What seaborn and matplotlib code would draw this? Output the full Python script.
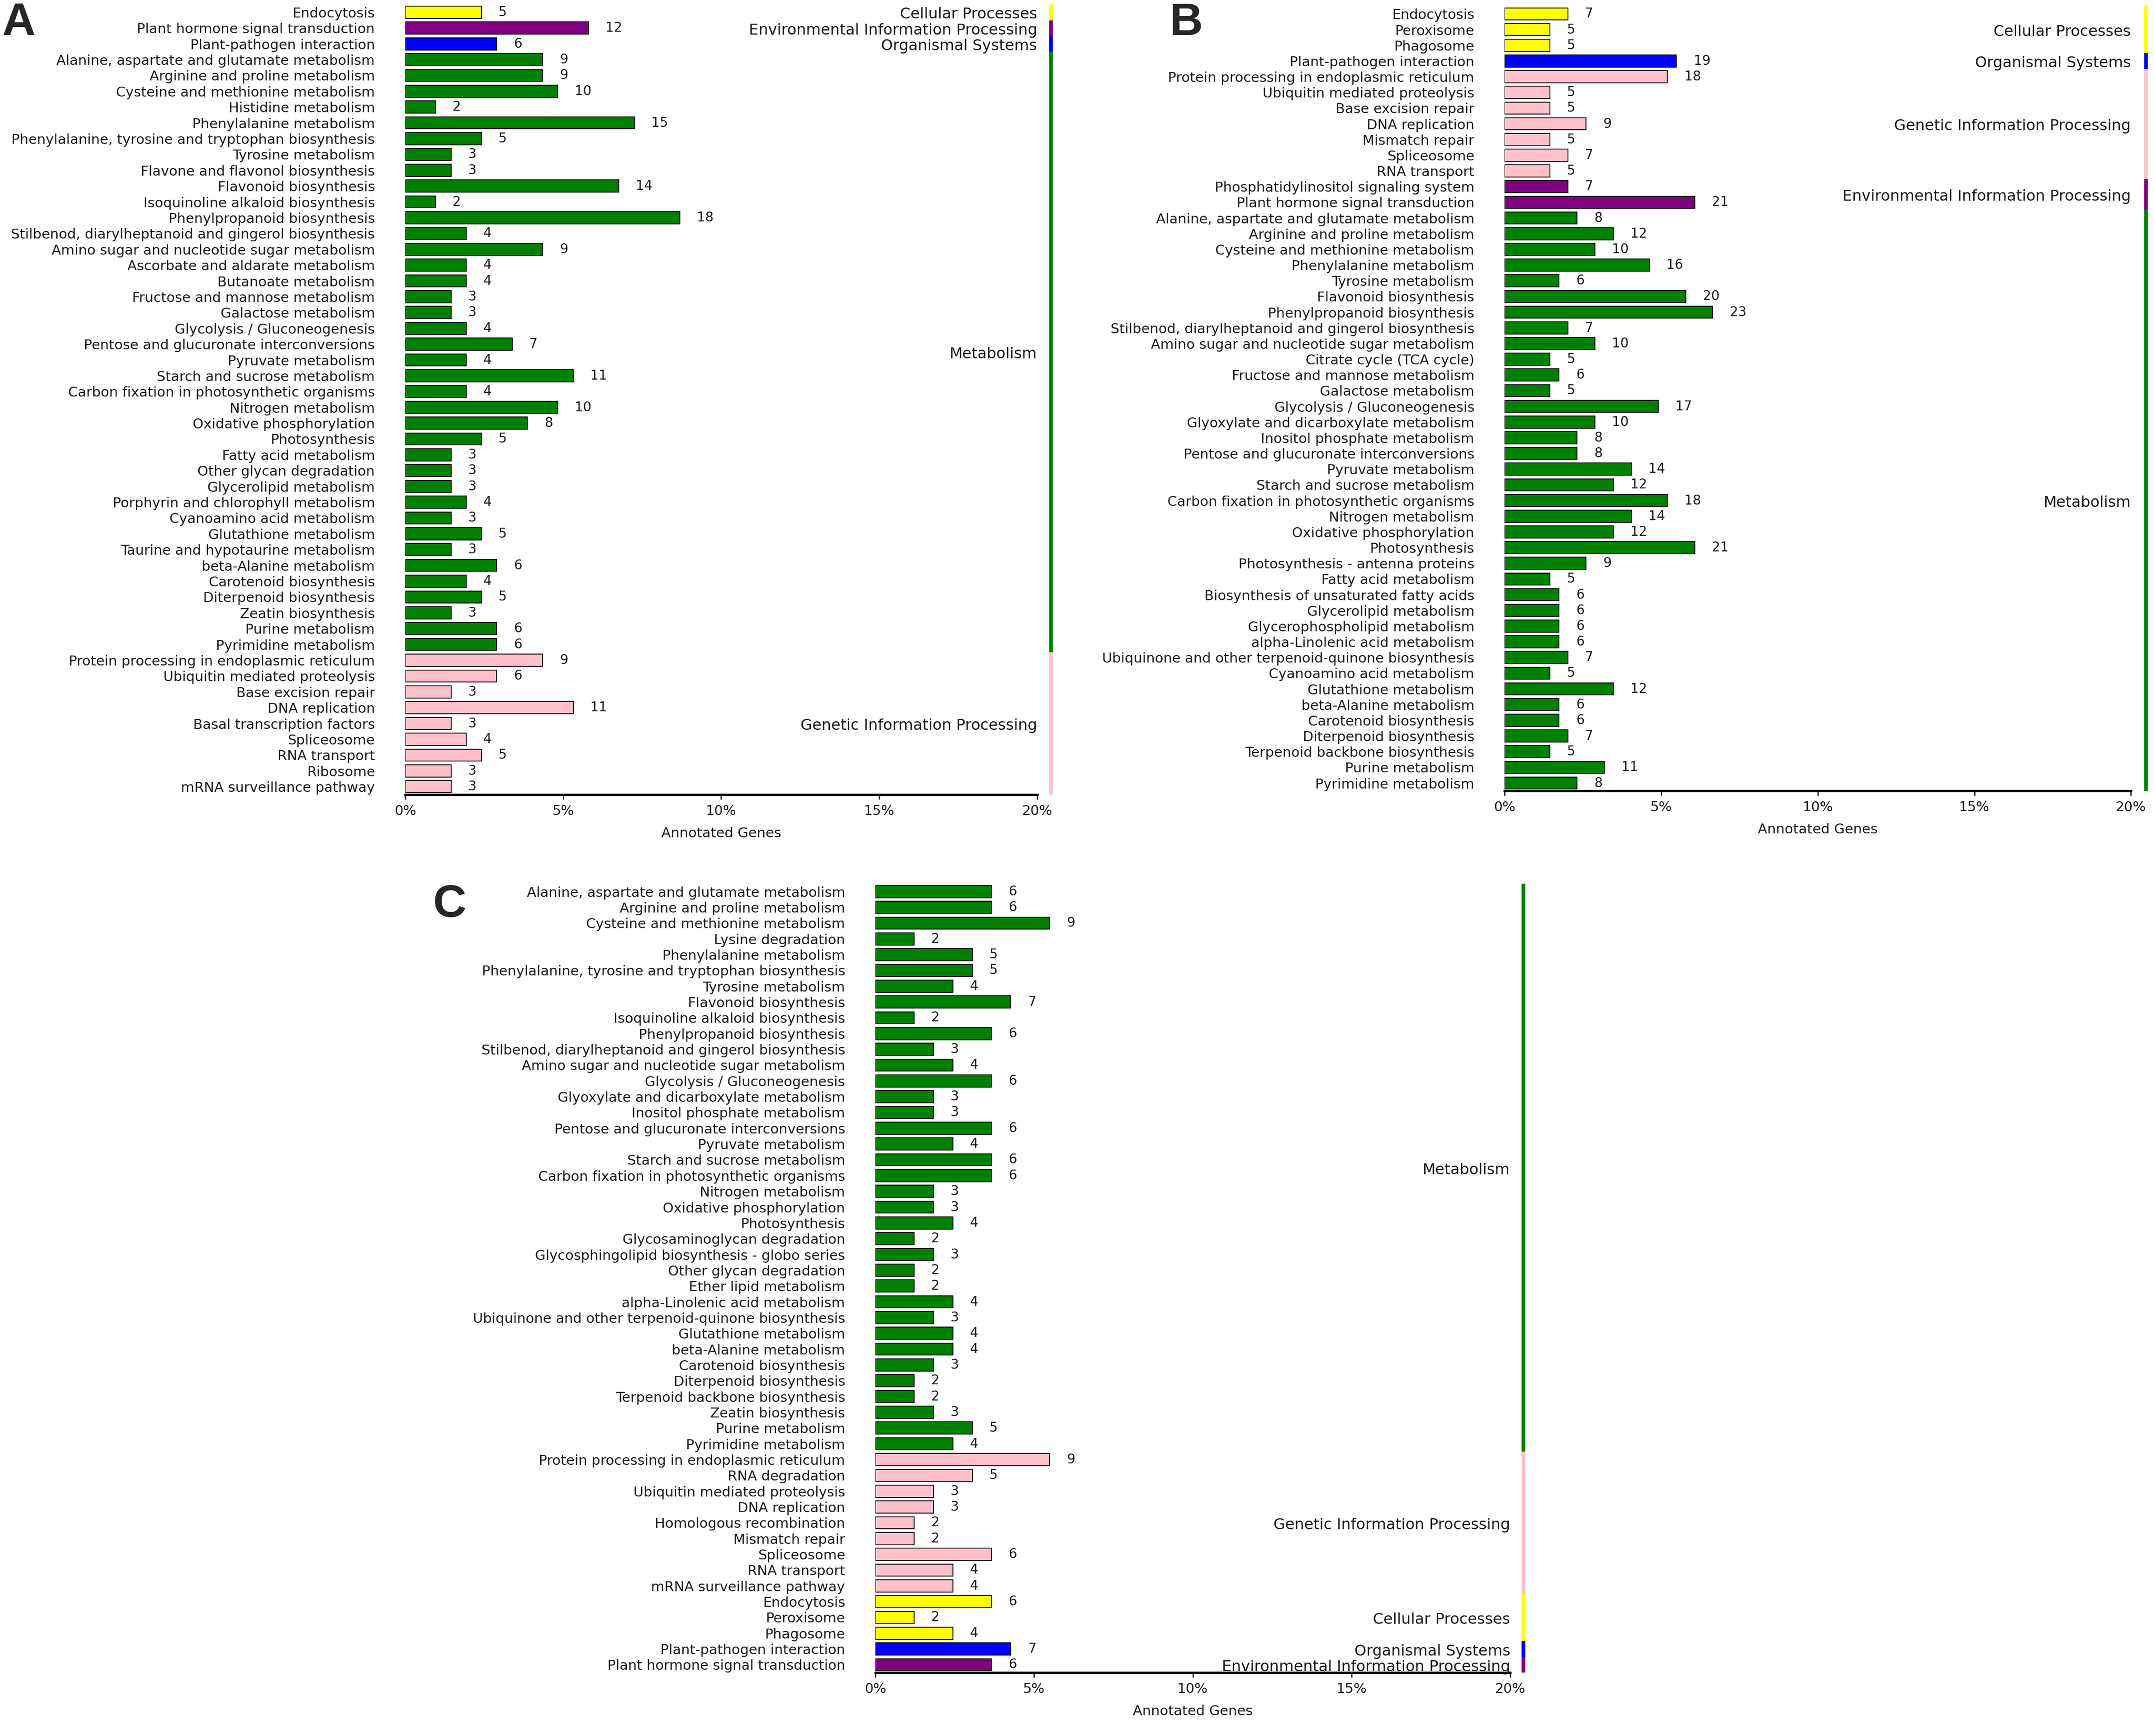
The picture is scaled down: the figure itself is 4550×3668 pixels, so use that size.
import matplotlib
matplotlib.use('Agg')
import matplotlib.pyplot as plt
import matplotlib.transforms as mtransforms
from matplotlib.ticker import FuncFormatter
import seaborn as sns
import pandas as pd

MET = 'Metabolism'
GEN = 'Genetic Information Processing'
CEL = 'Cellular Processes'
ORG = 'Organismal Systems'
ENV = 'Environmental Information Processing'

group_colors = {MET: '#008000', GEN: '#FFC0CB', CEL: '#FFFF00', ORG: '#0000FF', ENV: '#800080'}

# ---- panel A ----
terms_a = [
    'Endocytosis', 'Plant hormone signal transduction', 'Plant-pathogen interaction',
    'Alanine, aspartate and glutamate metabolism', 'Arginine and proline metabolism',
    'Cysteine and methionine metabolism', 'Histidine metabolism', 'Phenylalanine metabolism',
    'Phenylalanine, tyrosine and tryptophan biosynthesis', 'Tyrosine metabolism',
    'Flavone and flavonol biosynthesis', 'Flavonoid biosynthesis', 'Isoquinoline alkaloid biosynthesis',
    'Phenylpropanoid biosynthesis', 'Stilbenod, diarylheptanoid and gingerol biosynthesis',
    'Amino sugar and nucleotide sugar metabolism', 'Ascorbate and aldarate metabolism',
    'Butanoate metabolism', 'Fructose and mannose metabolism', 'Galactose metabolism',
    'Glycolysis / Gluconeogenesis', 'Pentose and glucuronate interconversions', 'Pyruvate metabolism',
    'Starch and sucrose metabolism', 'Carbon fixation in photosynthetic organisms', 'Nitrogen metabolism',
    'Oxidative phosphorylation', 'Photosynthesis', 'Fatty acid metabolism', 'Other glycan degradation',
    'Glycerolipid metabolism', 'Porphyrin and chlorophyll metabolism', 'Cyanoamino acid metabolism',
    'Glutathione metabolism', 'Taurine and hypotaurine metabolism', 'beta-Alanine metabolism',
    'Carotenoid biosynthesis', 'Diterpenoid biosynthesis', 'Zeatin biosynthesis', 'Purine metabolism',
    'Pyrimidine metabolism', 'Protein processing in endoplasmic reticulum',
    'Ubiquitin mediated proteolysis', 'Base excision repair', 'DNA replication',
    'Basal transcription factors', 'Spliceosome', 'RNA transport', 'Ribosome', 'mRNA surveillance pathway',
]
counts_a = [5, 12, 6, 9, 9, 10, 2, 15, 5, 3, 3, 14, 2, 18, 4, 9, 4, 4, 3, 3, 4, 7, 4, 11, 4, 10, 8,
            5, 3, 3, 3, 4, 3, 5, 3, 6, 4, 5, 3, 6, 6, 9, 6, 3, 11, 3, 4, 5, 3, 3]
groups_a = [CEL, ENV, ORG] + [MET] * 38 + [GEN] * 9
total_a = 207

# ---- panel B ----
terms_b = [
    'Endocytosis', 'Peroxisome', 'Phagosome', 'Plant-pathogen interaction',
    'Protein processing in endoplasmic reticulum', 'Ubiquitin mediated proteolysis',
    'Base excision repair', 'DNA replication', 'Mismatch repair', 'Spliceosome', 'RNA transport',
    'Phosphatidylinositol signaling system', 'Plant hormone signal transduction',
    'Alanine, aspartate and glutamate metabolism', 'Arginine and proline metabolism',
    'Cysteine and methionine metabolism', 'Phenylalanine metabolism', 'Tyrosine metabolism',
    'Flavonoid biosynthesis', 'Phenylpropanoid biosynthesis',
    'Stilbenod, diarylheptanoid and gingerol biosynthesis', 'Amino sugar and nucleotide sugar metabolism',
    'Citrate cycle (TCA cycle)', 'Fructose and mannose metabolism', 'Galactose metabolism',
    'Glycolysis / Gluconeogenesis', 'Glyoxylate and dicarboxylate metabolism',
    'Inositol phosphate metabolism', 'Pentose and glucuronate interconversions', 'Pyruvate metabolism',
    'Starch and sucrose metabolism', 'Carbon fixation in photosynthetic organisms', 'Nitrogen metabolism',
    'Oxidative phosphorylation', 'Photosynthesis', 'Photosynthesis - antenna proteins',
    'Fatty acid metabolism', 'Biosynthesis of unsaturated fatty acids', 'Glycerolipid metabolism',
    'Glycerophospholipid metabolism', 'alpha-Linolenic acid metabolism',
    'Ubiquinone and other terpenoid-quinone biosynthesis', 'Cyanoamino acid metabolism',
    'Glutathione metabolism', 'beta-Alanine metabolism', 'Carotenoid biosynthesis',
    'Diterpenoid biosynthesis', 'Terpenoid backbone biosynthesis', 'Purine metabolism',
    'Pyrimidine metabolism',
]
counts_b = [7, 5, 5, 19, 18, 5, 5, 9, 5, 7, 5, 7, 21, 8, 12, 10, 16, 6, 20, 23, 7, 10, 5, 6, 5, 17,
            10, 8, 8, 14, 12, 18, 14, 12, 21, 9, 5, 6, 6, 6, 6, 7, 5, 12, 6, 6, 7, 5, 11, 8]
groups_b = [CEL] * 3 + [ORG] + [GEN] * 7 + [ENV] * 2 + [MET] * 37
total_b = 346

# ---- panel C ----
terms_c = [
    'Alanine, aspartate and glutamate metabolism', 'Arginine and proline metabolism',
    'Cysteine and methionine metabolism', 'Lysine degradation', 'Phenylalanine metabolism',
    'Phenylalanine, tyrosine and tryptophan biosynthesis', 'Tyrosine metabolism',
    'Flavonoid biosynthesis', 'Isoquinoline alkaloid biosynthesis', 'Phenylpropanoid biosynthesis',
    'Stilbenod, diarylheptanoid and gingerol biosynthesis', 'Amino sugar and nucleotide sugar metabolism',
    'Glycolysis / Gluconeogenesis', 'Glyoxylate and dicarboxylate metabolism',
    'Inositol phosphate metabolism', 'Pentose and glucuronate interconversions', 'Pyruvate metabolism',
    'Starch and sucrose metabolism', 'Carbon fixation in photosynthetic organisms', 'Nitrogen metabolism',
    'Oxidative phosphorylation', 'Photosynthesis', 'Glycosaminoglycan degradation',
    'Glycosphingolipid biosynthesis - globo series', 'Other glycan degradation',
    'Ether lipid metabolism', 'alpha-Linolenic acid metabolism',
    'Ubiquinone and other terpenoid-quinone biosynthesis', 'Glutathione metabolism',
    'beta-Alanine metabolism', 'Carotenoid biosynthesis', 'Diterpenoid biosynthesis',
    'Terpenoid backbone biosynthesis', 'Zeatin biosynthesis', 'Purine metabolism',
    'Pyrimidine metabolism', 'Protein processing in endoplasmic reticulum', 'RNA degradation',
    'Ubiquitin mediated proteolysis', 'DNA replication', 'Homologous recombination', 'Mismatch repair',
    'Spliceosome', 'RNA transport', 'mRNA surveillance pathway', 'Endocytosis', 'Peroxisome',
    'Phagosome', 'Plant-pathogen interaction', 'Plant hormone signal transduction',
]
counts_c = [6, 6, 9, 2, 5, 5, 4, 7, 2, 6, 3, 4, 6, 3, 3, 6, 4, 6, 6, 3, 3, 4, 2, 3, 2, 2, 4, 3, 4, 4,
            3, 2, 2, 3, 5, 4, 9, 5, 3, 3, 2, 2, 6, 4, 4, 6, 2, 4, 7, 6]
groups_c = [MET] * 36 + [GEN] * 9 + [CEL] * 3 + [ORG] + [ENV]
total_c = 164

sns.set_style('white')
plt.rcParams['font.family'] = ['DejaVu Sans']
TXT = '#1a1a1a'


def draw_panel(ax, terms, counts, groups, total, line_x):
    df = pd.DataFrame({'term': terms, 'count': counts, 'group': groups})
    df['pct'] = df['count'] / total * 100
    sns.barplot(data=df, x='pct', y='term', hue='group', palette=group_colors, dodge=False,
                orient='h', order=terms, width=0.77, edgecolor='black', linewidth=1.3,
                saturation=1, legend=False, ax=ax)
    for i, row in df.iterrows():
        ax.annotate(str(row['count']), xy=(row['pct'], i), xytext=(26, 0),
                    textcoords='offset points', ha='left', va='center', fontsize=20, color=TXT)
    ax.set_xlim(0, 20)
    ax.set_ylim(len(terms) - 0.5, -0.5)
    ax.set_xticks([0, 5, 10, 15, 20])
    ax.xaxis.set_major_formatter(FuncFormatter(lambda v, p: f'{v:.0f}%'))
    ax.tick_params(axis='x', bottom=True, length=7, width=2, pad=8, labelsize=21,
                   direction='out', labelcolor=TXT)
    ax.tick_params(axis='y', left=False, length=0, pad=46, labelsize=21, labelcolor=TXT)
    ax.set_xlabel('Annotated Genes', fontsize=21, labelpad=14, color=TXT)
    ax.set_ylabel('')
    for s in ['left', 'top', 'right']:
        ax.spines[s].set_visible(False)
    ax.spines['bottom'].set_linewidth(3.6)
    ax.spines['bottom'].set_color('black')

    # group bars at the right side
    trans = mtransforms.blended_transform_factory(ax.transAxes, ax.transData)
    start = 0
    for i in range(1, len(groups) + 1):
        if i == len(groups) or groups[i] != groups[start]:
            g = groups[start]
            ax.plot([line_x, line_x], [start - 0.5, i - 0.5], transform=trans,
                    color=group_colors[g], lw=5.5, solid_capstyle='butt', clip_on=False)
            ax.text(1.0, (start + i - 1) / 2 + 0.15, g, transform=trans, ha='right', va='center',
                    fontsize=23, color=TXT)
            start = i


fig = plt.figure(figsize=(45.5, 36.68), dpi=100)
ax_a = fig.add_axes([0.1881, 0.5423, 0.2934, 0.4552])
ax_b = fig.add_axes([0.6985, 0.5444, 0.2908, 0.4521])
ax_c = fig.add_axes([0.4064, 0.0365, 0.2947, 0.4545])

draw_panel(ax_a, terms_a, counts_a, groups_a, total_a, 1.022)
draw_panel(ax_b, terms_b, counts_b, groups_b, total_b, 1.024)
draw_panel(ax_c, terms_c, counts_c, groups_c, total_c, 1.021)

letter_font = ['Liberation Sans', 'DejaVu Sans']
fig.text(0.001, 0.999, 'A', ha='left', va='top', fontsize=70, fontweight='bold', family=letter_font)
fig.text(0.543, 0.999, 'B', ha='left', va='top', fontsize=70, fontweight='bold', family=letter_font)
fig.text(0.201, 0.491, 'C', ha='left', va='top', fontsize=70, fontweight='bold', family=letter_font)

fig.savefig('out.png', dpi=100)
